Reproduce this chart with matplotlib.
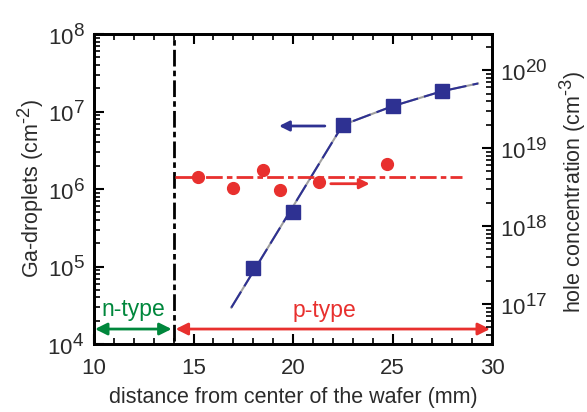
import matplotlib
matplotlib.use("Agg")
import matplotlib.pyplot as plt
import matplotlib._mathtext as _mt
from matplotlib.ticker import LogLocator, MultipleLocator, NullFormatter
import numpy as np

_mt.SHRINK_FACTOR = 0.85

plt.rcParams['font.family'] = ['Liberation Sans', 'DejaVu Sans']
plt.rcParams['mathtext.fontset'] = 'custom'
plt.rcParams['mathtext.rm'] = 'Liberation Sans'
plt.rcParams['mathtext.it'] = 'Liberation Sans:italic'
plt.rcParams['mathtext.bf'] = 'Liberation Sans:bold'

# Ga-droplet density (left axis)
sq_x = [18.0, 20.0, 22.5, 25.0, 27.5]
sq_y = [9.7e4, 5.1e5, 6.7e6, 1.17e7, 1.83e7]
# guide line for droplets
fit_x = [16.9, 22.5, 25.0, 27.5, 29.3]
fit_y = [2.95e4, 6.7e6, 1.17e7, 1.83e7, 2.3e7]

# hole concentration (right axis)
hc_x = [15.24, 17.0, 18.5, 19.35, 21.3, 24.7]
hc_y = [4.25e18, 3.07e18, 5.3e18, 2.86e18, 3.63e18, 6.2e18]
hc_mean = 4.3e18
hc_line_x = [14.05, 28.5]

boundary_x = 14.0

blue = '#2e3192'
red = '#e8302e'
green = '#00873c'
txt = '#2b2b2b'

fig = plt.figure(figsize=(5.87, 4.12), dpi=100)
ax = fig.add_axes([94/587, 1-344/412, (492-94)/587, (344-34)/412])
ax2 = ax.twinx()

ax.set_xlim(10, 30)
ax.set_yscale('log')
ax.set_ylim(1e4, 1e8)
ax2.set_yscale('log')
ax2.set_ylim(10**16.487, 10**20.462)

# droplet guide line
ax.plot(fit_x, fit_y, color='#a0a0a0', lw=1.5, zorder=2)
ax.plot(fit_x, fit_y, color=blue, lw=1.5, dashes=[9, 3], zorder=3)
ax.plot(sq_x, sq_y, 's', color=blue, ms=10, zorder=4)

# hole concentration
ax2.plot(hc_line_x, [hc_mean, hc_mean], color=red, lw=2, dashes=[6, 1.5, 2, 1.5], zorder=2)
ax2.plot(hc_x, hc_y, 'o', color=red, ms=8.5, zorder=4)

# boundary
ax.plot([boundary_x, boundary_x], [1.1e4, 8.7e7], color='black', lw=2, dashes=[6, 1.5, 2, 1.5], zorder=3)

# arrows
yarr = 1.56e4
ax.annotate('', xy=(10.05, yarr), xytext=(13.9, yarr),
            arrowprops=dict(arrowstyle='<|-|>', color=green, lw=2, mutation_scale=18, shrinkA=0, shrinkB=0))
ax.annotate('', xy=(14.1, yarr), xytext=(29.9, yarr),
            arrowprops=dict(arrowstyle='<|-|>', color=red, lw=2, mutation_scale=18, shrinkA=0, shrinkB=0))
ax.text(12.0, 2.3e4, 'n-type', color=green, fontsize=16.5, ha='center', va='baseline')
ax.text(21.6, 2.25e4, 'p-type', color=red, fontsize=16.5, ha='center', va='baseline')

ax.annotate('', xy=(19.3, 6.5e6), xytext=(21.6, 6.5e6),
            arrowprops=dict(arrowstyle='-|>', color=blue, lw=2, mutation_scale=15, shrinkA=0, shrinkB=0))
ax.annotate('', xy=(23.85, 1.17e6), xytext=(21.9, 1.17e6),
            arrowprops=dict(arrowstyle='-|>', color=red, lw=2, mutation_scale=15, shrinkA=0, shrinkB=0))

# ticks
ax.xaxis.set_major_locator(MultipleLocator(5))
ax.xaxis.set_minor_locator(MultipleLocator(1))
ax.yaxis.set_major_locator(LogLocator(base=10, numticks=10))
ax.yaxis.set_minor_locator(LogLocator(base=10, subs=np.arange(2, 10), numticks=10))
ax.yaxis.set_minor_formatter(NullFormatter())
ax2.yaxis.set_major_locator(LogLocator(base=10, numticks=10))
ax2.yaxis.set_minor_locator(LogLocator(base=10, subs=np.arange(2, 10), numticks=10))
ax2.yaxis.set_minor_formatter(NullFormatter())

ax.tick_params(axis='x', which='both', direction='in', top=True, bottom=True, labelsize=16, pad=10)
ax.tick_params(axis='y', which='both', direction='in', left=True, right=False, labelsize=16, pad=7)
ax2.tick_params(axis='y', which='both', direction='in', labelsize=16, pad=6)
for a in (ax, ax2):
    a.tick_params(which='major', length=7, width=1.5)
    a.tick_params(which='minor', length=4, width=1.2)
for s in ax.spines.values():
    s.set_linewidth(2)
for s in ax2.spines.values():
    s.set_linewidth(2)

ax.set_xlabel('distance from center of the wafer (mm)', fontsize=15.5, color=txt, labelpad=6)
ax.set_ylabel(r'Ga-droplets (cm$^{\text{-}2}$)', fontsize=15.5, color=txt)
ax2.set_ylabel(r'hole concentration (cm$^{\text{-}3}$)', fontsize=15.5, color=txt)
ax.yaxis.set_label_coords(-0.12, 0.5)
ax2.yaxis.set_label_coords(1.165, 0.49)
for lab in ax.get_xticklabels() + ax.get_yticklabels() + ax2.get_yticklabels():
    lab.set_color(txt)

fig.savefig('out.png', dpi=100)
